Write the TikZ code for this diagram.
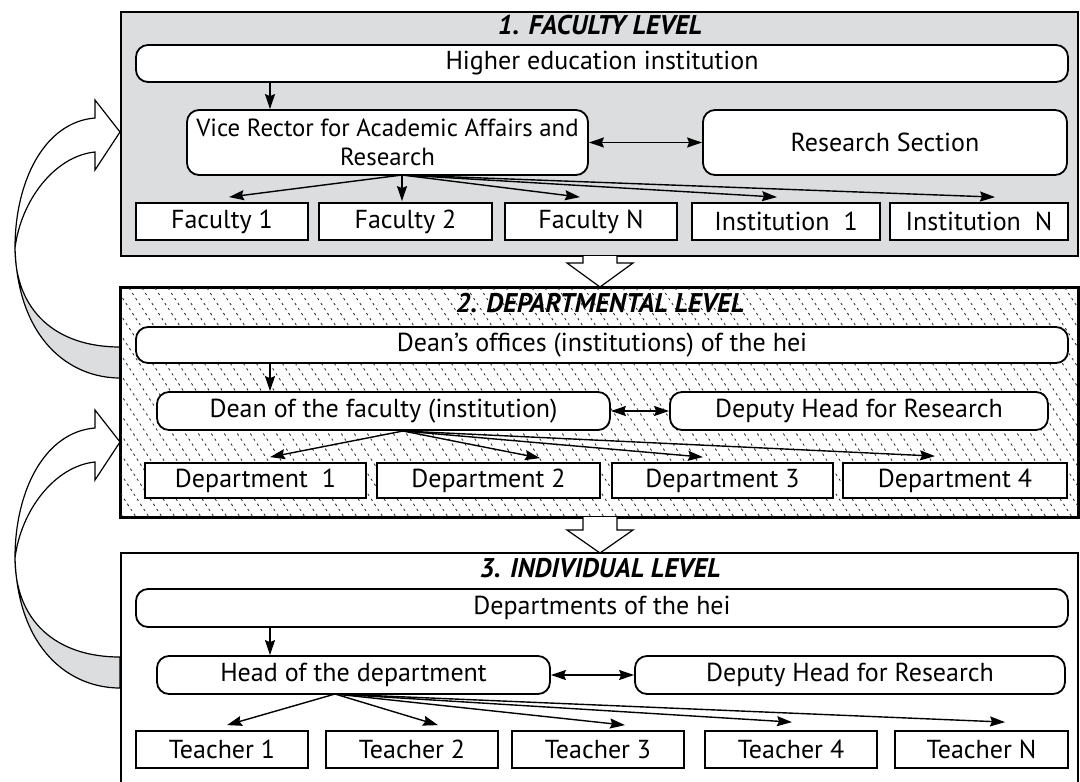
\documentclass[tikz,border=0pt]{standalone}
\usepackage{fontspec}
\setmainfont{PT Sans}
\usetikzlibrary{arrows.meta,calc}
\definecolor{lvlgray}{HTML}{DCDDDF}

\begin{document}
\begin{tikzpicture}[x=0.5pt,y=-0.5pt,>={Stealth[length=7.5pt,width=5pt,inset=1pt]},
  font=\fontsize{13}{14.5}\selectfont,
  level/.style={draw,line width=1.2pt,inner sep=0pt,minimum width=478.5pt},
  title/.style={font=\fontsize{13.5}{15}\selectfont\bfseries\itshape},
  rbox/.style={draw,line width=0.9pt,rounded corners=6pt,fill=white,inner sep=0pt,minimum height=18.5pt,align=center},
  sbox/.style={draw,line width=0.9pt,fill=white,inner sep=0pt,minimum height=18.5pt},
  link/.style={->,line width=0.7pt},
  hatch/.style={black!85,line width=0.4pt,dash pattern=on 1.2pt off 1.8pt},
  ribbon/.style={draw,line width=0.6pt}]
\useasboundingbox (0,0) rectangle (1080,781);

% feedback arrows on the left
\foreach \dy in {0,310}{
  \filldraw[ribbon,fill=lvlgray] (15,248+\dy) .. controls (15,310+\dy) and (55,347+\dy) .. (120,347+\dy)
    -- (120,378+\dy) .. controls (70,378+\dy) and (18,340+\dy) .. cycle;
  \filldraw[ribbon,fill=white] (15,248+\dy) .. controls (15,180+\dy) and (45,122+\dy) .. (95,118+\dy)
    -- (95,100+\dy) -- (120,132+\dy) -- (95,170+\dy) -- (95,152+\dy)
    .. controls (55,156+\dy) and (21,200+\dy) .. cycle;
}

% levels
\node[level,fill=lvlgray,minimum height=122pt] (lvl1) at (599.5,134) {};
\node[level,fill=white,minimum height=114.5pt] (lvl2) at (599.5,402.5) {};
\begin{scope}
  \clip (lvl2.north west) rectangle (lvl2.south east);
  \foreach \a in {-40,-27,...,1080} \draw[hatch] (\a,288) -- ++(150,229);
\end{scope}
\draw[line width=1.2pt] (lvl2.north west) rectangle (lvl2.south east);
\node[level,fill=white,minimum height=118.5pt] (lvl3) at (599.5,671.5) {};

\filldraw[ribbon,fill=white] (583,256) -- (583,263) -- (567,263) -- (600,287) -- (633,263) -- (617,263) -- (617,256);
\filldraw[ribbon,fill=white] (583,517) -- (583,530) -- (567,530) -- (600,553) -- (633,530) -- (617,530) -- (617,517);

% 1. faculty level
\node[title] (ttl1) at (600,25) {1. FACULTY LEVEL};
\node[rbox,minimum width=466pt] (hei) at (602,63.5) {Higher education institution};
\node[rbox,minimum width=200.5pt,minimum height=32.5pt,font=\fontsize{12.4}{14.5}\selectfont] (vr) at (387.5,142.5) {Vice Rector for Academic Affairs and\\Research};
\node[rbox,minimum width=182pt,minimum height=32.5pt] (rs) at (885,142.5) {Research Section};
\node[sbox,minimum width=86pt] (fac1) at (222,221.5) {Faculty 1};
\node[sbox,minimum width=86.5pt] (fac2) at (405.5,221.5) {Faculty 2};
\node[sbox,minimum width=86pt] (facN) at (591,221.5) {Faculty N};
\node[sbox,minimum width=94pt] (inst1) at (786,221.5) {Institution~~1};
\node[sbox,minimum width=89pt] (instN) at (979,221.5) {Institution~~N};

\draw[link] ($(hei.south)+(-332,0)$) -- ($(vr.north)+(-117.5,0)$);
\draw[<->,line width=0.7pt] (vr) -- (rs);
\coordinate (vrfan) at (402,175);
\foreach \n/\dx/\dy in {fac1/7/-5,fac2/-3.5/-1,facN/-11/-5,inst1/-9/-5,instN/16/-5}
  \draw[link] (vrfan) -- ($(\n.north)+(\dx,\dy)$);

% 2. departmental level
\node[title] (ttl2) at (600,303) {2. DEPARTMENTAL LEVEL};
\node[rbox,minimum width=466pt,minimum height=18pt] (deans) at (602,345) {Dean’s offices (institutions) of the hei};
\node[rbox,minimum width=226.5pt,minimum height=19pt] (dean) at (383.5,411) {Dean of the faculty (institution)};
\node[rbox,minimum width=189pt,minimum height=19pt] (dep2h) at (859,411) {Deputy Head for Research};
\node[sbox,minimum width=110.5pt,minimum height=17.5pt] (dep1) at (255.5,480.5) {Department~~1};
\node[sbox,minimum width=111.5pt,minimum height=17.5pt] (dep2) at (488.5,480.5) {Department 2};
\node[sbox,minimum width=110.5pt,minimum height=17.5pt] (dep3) at (722.5,480.5) {Department 3};
\node[sbox,minimum width=112pt,minimum height=17.5pt] (dep4) at (955,480.5) {Department 4};

\draw[link] ($(deans.south)+(-332,0)$) -- ($(dean.north)+(-113.5,0)$);
\draw[<->,line width=0.7pt] (dean) -- (dep2h);
\coordinate (deanfan) at (403,431);
\foreach \n/\dx/\dy in {dep1/14.5/-5,dep2/51.5/-4,dep3/-19.5/-5,dep4/-20/-6}
  \draw[link] (deanfan) -- ($(\n.north)+(\dx,\dy)$);

% 3. individual level
\node[title] (ttl3) at (600,568) {3. INDIVIDUAL LEVEL};
\node[rbox,minimum width=466pt,minimum height=19pt] (depts) at (602,608) {Departments of the hei};
\node[rbox,minimum width=196.5pt,minimum height=19pt] (head) at (353.5,675) {Head of the department};
\node[rbox,minimum width=215pt,minimum height=19pt] (dep3h) at (850,675) {Deputy Head for Research};
\node[sbox,minimum width=86pt] (tch1) at (222,749.5) {Teacher 1};
\node[sbox,minimum width=86pt] (tch2) at (412,749.5) {Teacher 2};
\node[sbox,minimum width=86pt] (tch3) at (598,749.5) {Teacher 3};
\node[sbox,minimum width=86pt] (tch4) at (791,749.5) {Teacher 4};
\node[sbox,minimum width=86.5pt] (tchN) at (981.5,749.5) {Teacher N};

\draw[link] ($(depts.south)+(-332,0)$) -- ($(head.north)+(-83.5,0)$);
\draw[<->,line width=0.7pt] (head) -- (dep3h);
\coordinate (headfan) at (335,694);
\foreach \n/\dx/\dy in {tch1/5/-5,tch2/26/-5,tch3/27/-5,tch4/1/-8,tchN/23.5/-8}
  \draw[link] (headfan) -- ($(\n.north)+(\dx,\dy)$);
\end{tikzpicture}
\end{document}
